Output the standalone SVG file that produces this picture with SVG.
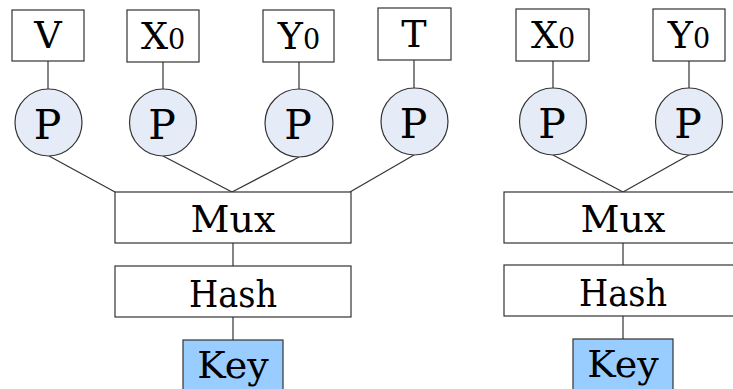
<svg xmlns="http://www.w3.org/2000/svg" width="733" height="389" viewBox="0 0 733 389">
<style>
.box{fill:#fff;stroke:#333;stroke-width:1.2}
.key{fill:#99CCFF;stroke:#333;stroke-width:1.2}
.pc{fill:#E6ECF7;stroke:#333;stroke-width:1.2}
.ln{stroke:#333;stroke-width:1.2;fill:none}
.t{font-family:'DejaVu Serif',serif;font-size:38px;fill:#000;text-anchor:middle}
.p{font-size:41px}
.sub{font-size:27px}
</style>
<rect width="733" height="389" fill="#fff"/>
<g id="connectors">
<line class="ln" x1="48" y1="61" x2="48" y2="89"/>
<line class="ln" x1="163" y1="62" x2="163" y2="89"/>
<line class="ln" x1="299" y1="62" x2="299" y2="89"/>
<line class="ln" x1="414" y1="60" x2="414" y2="88"/>
<line class="ln" x1="49" y1="156" x2="115" y2="192"/>
<line class="ln" x1="163" y1="156" x2="232" y2="192"/>
<line class="ln" x1="299" y1="157" x2="232" y2="192"/>
<line class="ln" x1="414" y1="155" x2="350" y2="192"/>
<line class="ln" x1="233" y1="243" x2="233" y2="266"/>
<line class="ln" x1="233" y1="317" x2="233" y2="340"/>
<line class="ln" x1="553" y1="61" x2="553" y2="88"/>
<line class="ln" x1="689" y1="61" x2="689" y2="88"/>
<line class="ln" x1="553" y1="155" x2="623" y2="192"/>
<line class="ln" x1="689" y1="155" x2="623" y2="192"/>
<line class="ln" x1="623" y1="243" x2="623" y2="265"/>
<line class="ln" x1="623" y1="316" x2="623" y2="339"/>
</g>
<g id="nodeV"><rect class="box" x="12" y="10" width="72" height="51"/><text class="t" x="48" y="48">V</text></g>
<g id="nodeX0a"><rect class="box" x="127" y="10" width="72" height="52"/><text class="t" x="163" y="49">X<tspan class="sub">0</tspan></text></g>
<g id="nodeY0a"><rect class="box" x="263" y="10" width="71" height="52"/><text class="t" x="299" y="49">Y<tspan class="sub">0</tspan></text></g>
<g id="nodeT"><rect class="box" x="378" y="8" width="73" height="52"/><text class="t" x="414" y="47">T</text></g>
<g id="nodeP1"><circle class="pc" cx="48.5" cy="122.5" r="33.5"/><text class="t p" x="47.5" y="138.5">P</text></g>
<g id="nodeP2"><circle class="pc" cx="163" cy="122.5" r="33.5"/><text class="t p" x="162" y="138.5">P</text></g>
<g id="nodeP3"><circle class="pc" cx="299" cy="123" r="34"/><text class="t p" x="298" y="139">P</text></g>
<g id="nodeP4"><circle class="pc" cx="414.5" cy="121.5" r="33.5"/><text class="t p" x="413.5" y="137.5">P</text></g>
<g id="nodeMuxA"><rect class="box" x="115" y="192" width="236" height="51"/><text class="t" x="233" y="231.5">Mux</text></g>
<g id="nodeHashA"><rect class="box" x="115" y="266" width="236" height="51"/><text class="t" x="233" y="306.5" textLength="88" lengthAdjust="spacingAndGlyphs">Hash</text></g>
<g id="nodeKeyA"><rect class="key" x="183" y="340" width="100" height="60"/><text class="t" x="233" y="377.5">Key</text></g>
<g id="nodeX0b"><rect class="box" x="516" y="9" width="73" height="52"/><text class="t" x="553" y="48">X<tspan class="sub">0</tspan></text></g>
<g id="nodeY0b"><rect class="box" x="653" y="9" width="72" height="52"/><text class="t" x="689" y="48">Y<tspan class="sub">0</tspan></text></g>
<g id="nodeP5"><circle class="pc" cx="553" cy="121.5" r="33.5"/><text class="t p" x="552" y="137.5">P</text></g>
<g id="nodeP6"><circle class="pc" cx="689" cy="121.5" r="33.5"/><text class="t p" x="688" y="137.5">P</text></g>
<g id="nodeMuxB"><rect class="box" x="504" y="192" width="238" height="51"/><text class="t" x="623" y="231.5">Mux</text></g>
<g id="nodeHashB"><rect class="box" x="504" y="265" width="238" height="51"/><text class="t" x="623" y="305.5" textLength="88" lengthAdjust="spacingAndGlyphs">Hash</text></g>
<g id="nodeKeyB"><rect class="key" x="573" y="339" width="100" height="60"/><text class="t" x="623" y="376.5">Key</text></g>
</svg>
